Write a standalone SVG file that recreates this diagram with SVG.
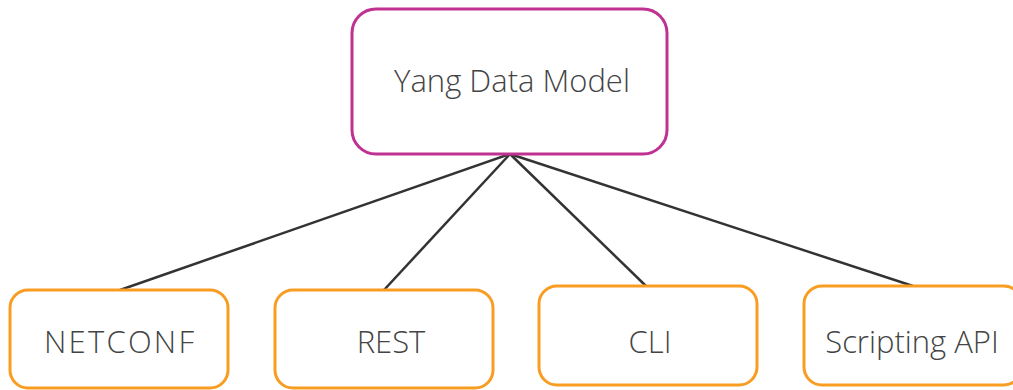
<svg xmlns="http://www.w3.org/2000/svg" width="1013" height="390" viewBox="0 0 1013 390">
<style>
.top{fill:#fff;stroke:#c03292;stroke-width:3}
.leaf{fill:#fff;stroke:#f99d22;stroke-width:3}
.lbl{font-family:"Open Sans",Lato,sans-serif;font-weight:300;font-size:31px;fill:#444;text-anchor:middle}
.edge{stroke:#333;stroke-width:2.5;fill:none}
</style>
<g id="connectors">
<line class="edge" x1="510" y1="154" x2="120" y2="290"/>
<line class="edge" x1="510" y1="154" x2="384" y2="290"/>
<line class="edge" x1="510" y1="154" x2="646" y2="286"/>
<line class="edge" x1="510" y1="154" x2="913" y2="286"/>
</g>
<g id="yang">
<rect class="top" x="352" y="9" width="315" height="145" rx="24"/>
<text class="lbl" x="512" y="92">Yang Data Model</text>
</g>
<g id="netconf">
<rect class="leaf" x="10" y="290" width="218" height="98" rx="18"/>
<text class="lbl" x="119" y="353" textLength="150" lengthAdjust="spacing">NETCONF</text>
</g>
<g id="rest">
<rect class="leaf" x="275" y="290" width="218" height="98" rx="18"/>
<text class="lbl" x="391" y="353">REST</text>
</g>
<g id="cli">
<rect class="leaf" x="539" y="286" width="218" height="99" rx="18"/>
<text class="lbl" x="650" y="353">CLI</text>
</g>
<g id="scripting">
<rect class="leaf" x="804" y="286" width="218" height="99" rx="18"/>
<text class="lbl" x="912" y="353">Scripting API</text>
</g>
</svg>
